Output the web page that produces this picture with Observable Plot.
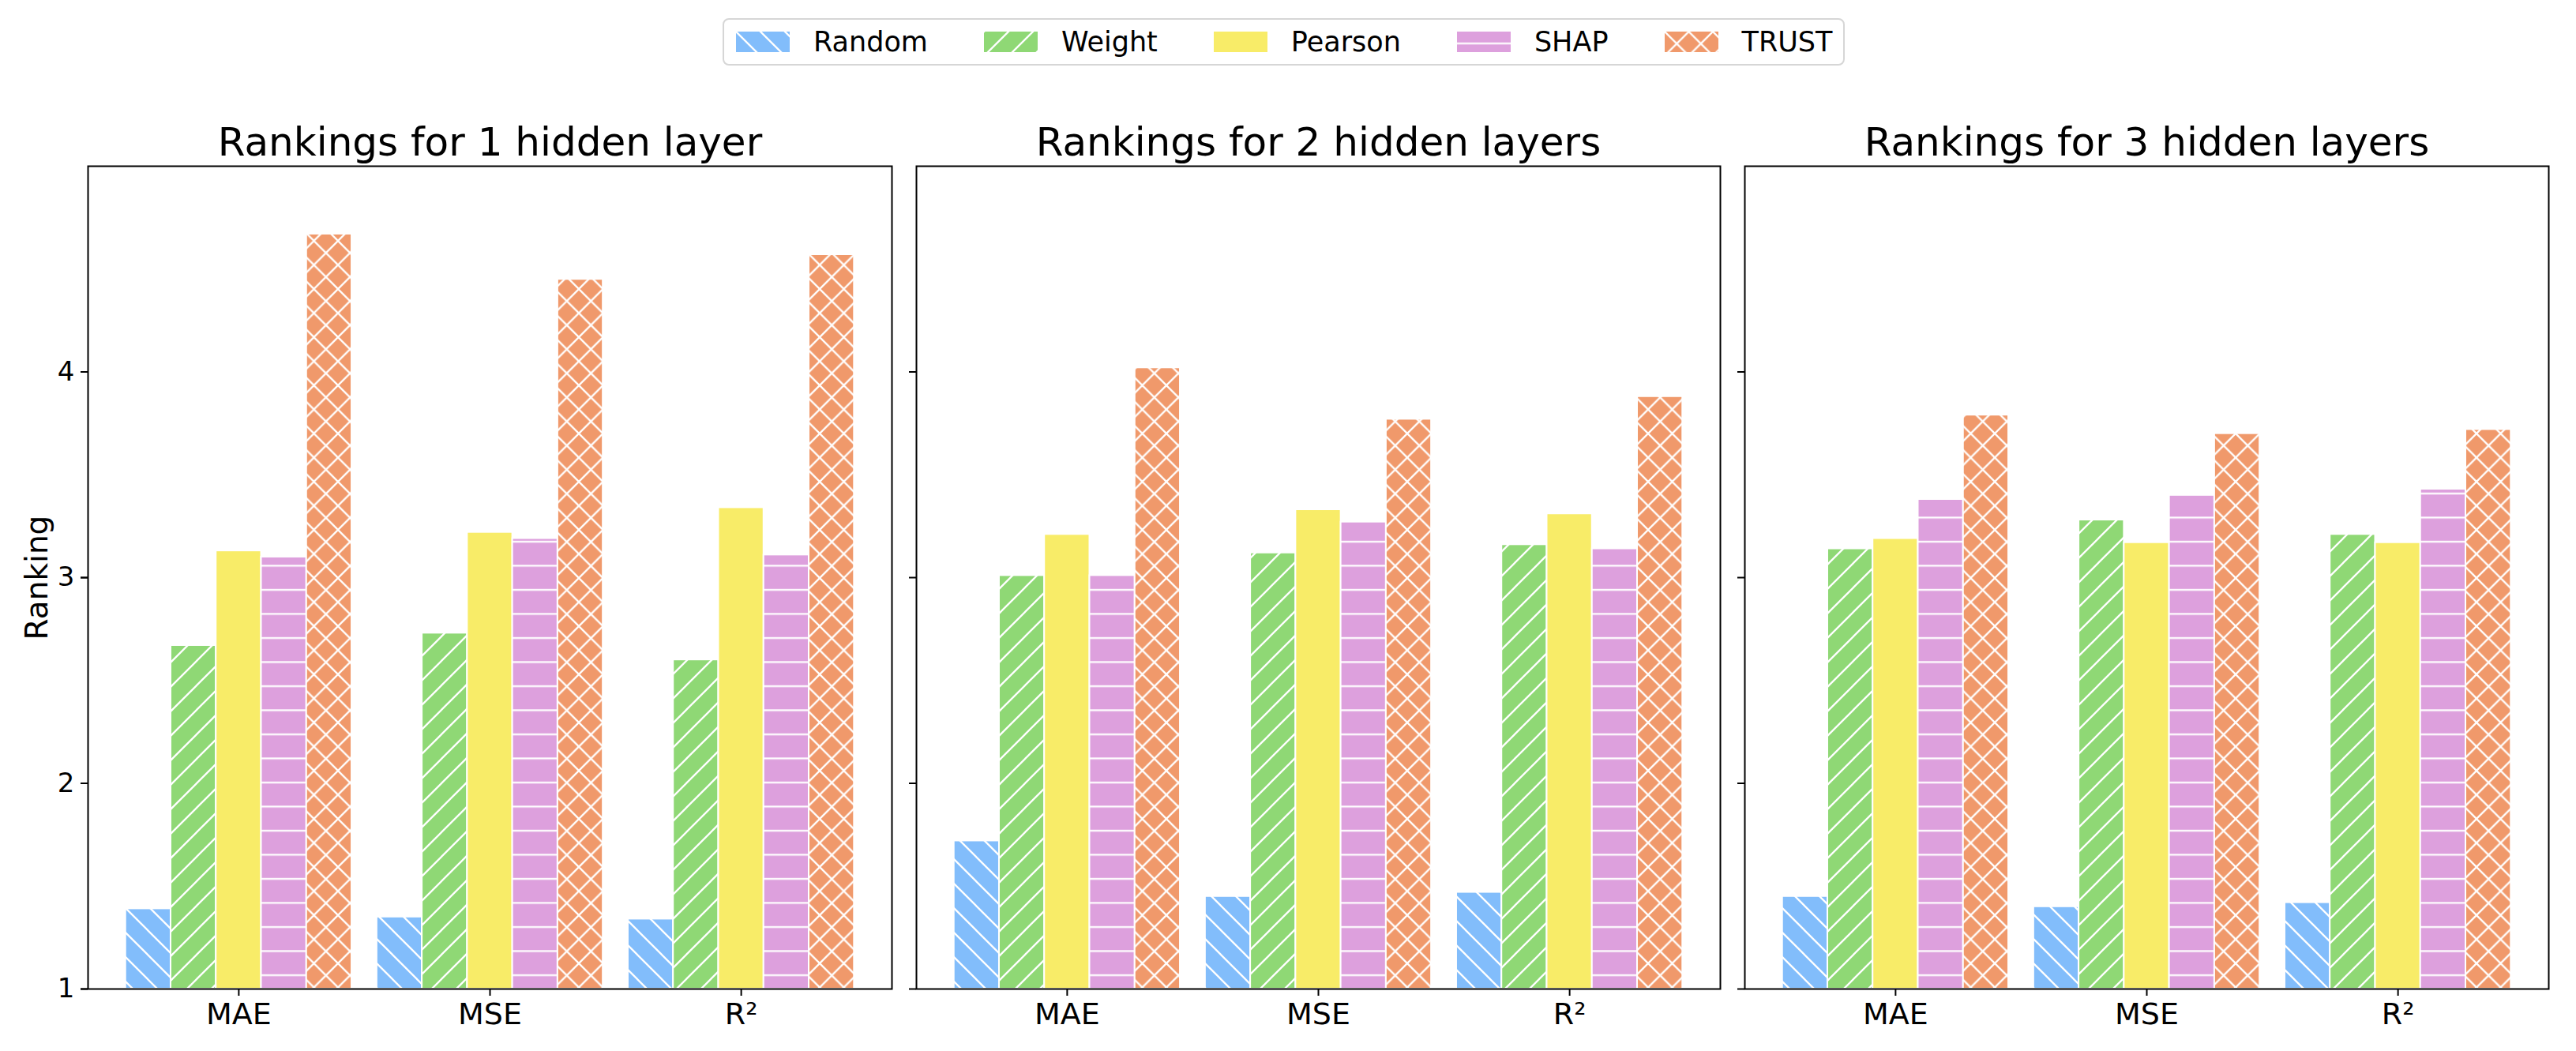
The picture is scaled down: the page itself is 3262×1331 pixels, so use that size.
<!DOCTYPE html>
<html><head><meta charset="utf-8">
<script src="https://cdn.jsdelivr.net/npm/d3@7"></script>
<script src="https://cdn.jsdelivr.net/npm/@observablehq/plot@0.6"></script>
<style>
html,body{margin:0;padding:0;background:#fff;}
body{width:3262px;height:1331px;position:relative;overflow:hidden;font-family:"DejaVu Sans",sans-serif;color:#000;}
#legend{position:absolute;left:915px;top:23px;width:1421px;height:60px;box-sizing:border-box;border:2px solid #d6d6d6;border-radius:8px;display:flex;align-items:center;padding-left:15px;font-size:35px;background:#fff;}
.item{display:flex;align-items:center;margin-right:71px;white-space:nowrap;}
.item:last-child{margin-right:0}
.item svg{width:68px;height:26px;margin-right:30px;display:block}
#chart{position:absolute;left:0;top:0;}
</style></head>
<body>
<svg width="0" height="0" style="position:absolute">
<defs id="defs"></defs>
</svg>
<div id="chart"></div>
<div id="legend"></div>
<script>
// ---- data ----
const layers = ["1 hidden layer", "2 hidden layers", "3 hidden layers"];
const metrics = ["MAE", "MSE", "R²"];
const methods = ["Random", "Weight", "Pearson", "SHAP", "TRUST"];
const yTicks = [1, 2, 3, 4];
// values[layer][method][metric]
const layer1 = [
  [1.39, 1.35, 1.34],
  [2.67, 2.73, 2.60],
  [3.13, 3.22, 3.34],
  [3.10, 3.19, 3.11],
  [4.67, 4.45, 4.57]
];
const layer2 = [
  [1.72, 1.45, 1.47],
  [3.01, 3.12, 3.16],
  [3.21, 3.33, 3.31],
  [3.01, 3.27, 3.14],
  [4.02, 3.77, 3.88]
];
const layer3 = [
  [1.45, 1.40, 1.42],
  [3.14, 3.28, 3.21],
  [3.19, 3.17, 3.17],
  [3.38, 3.40, 3.43],
  [3.79, 3.70, 3.72]
];
const values = [layer1, layer2, layer3];
const colors = ["#82bdfb", "#8fd875", "#f8ec68", "#dda0dd", "#f0996b"];

// ---- hatch patterns ----
const defs = document.getElementById("defs");
const hw = 2.3;
defs.innerHTML = `
<pattern id="h0" patternUnits="userSpaceOnUse" width="31" height="31"><rect width="31" height="31" fill="${colors[0]}"/><path d="M-8,-8 L39,39 M-8,23 L8,39 M23,-8 L39,8" stroke="white" stroke-width="${hw}" fill="none"/></pattern>
<pattern id="h1" patternUnits="userSpaceOnUse" width="31" height="31"><rect width="31" height="31" fill="${colors[1]}"/><path d="M-8,39 L39,-8 M-8,8 L8,-8 M23,39 L39,23" stroke="white" stroke-width="${hw}" fill="none"/></pattern>
<pattern id="h2" patternUnits="userSpaceOnUse" width="31" height="31"><rect width="31" height="31" fill="${colors[2]}"/></pattern>
<pattern id="h3" patternUnits="userSpaceOnUse" width="20" height="30.5"><rect width="20" height="30.5" fill="${colors[3]}"/><path d="M-2,15 L22,15" stroke="white" stroke-width="${hw}" fill="none"/></pattern>
<pattern id="h4" patternUnits="userSpaceOnUse" width="30.5" height="30.5"><rect width="30.5" height="30.5" fill="${colors[4]}"/><path d="M-8,-8 L38.5,38.5 M-8,22.5 L8,38.5 M22.5,-8 L38.5,8 M-8,38.5 L38.5,-8 M-8,8 L8,-8 M22.5,38.5 L38.5,22.5" stroke="white" stroke-width="${hw}" fill="none"/></pattern>`;
const fills = methods.map((m, i) => `url(#h${i})`);

// ---- rows ----
const rows = [];
layers.forEach((layer, li) => methods.forEach((method, mi) => metrics.forEach((metric, ki) => {
  rows.push({layer, method, metric, value: values[li][mi][ki], mi, ki});
})));
const barW = 0.18;

const chart = Plot.plot({
  width: 3262,
  height: 1331,
  marginTop: 210,
  marginBottom: 79,
  marginLeft: 110,
  marginRight: 34,
  style: {fontFamily: "DejaVu Sans", fontSize: "34px", color: "black", background: "white"},
  fx: {domain: layers, padding: 0.03, axis: null},
  x: {domain: [-0.6, 2.6], axis: null},
  y: {domain: [1, 5], axis: null},
  color: {domain: methods, range: fills},
  marks: [
    Plot.rect(rows, {
      fx: "layer",
      x1: d => d.ki + (d.mi - 2.5) * barW,
      x2: d => d.ki + (d.mi - 1.5) * barW,
      y1: d => 1,
      y2: "value",
      fill: "method",
      stroke: "white",
      strokeWidth: 2
    }),
    Plot.frame({stroke: "black", strokeWidth: 2}),
    Plot.axisX({ticks: [0, 1, 2], tickFormat: i => metrics[i], tickSize: 9, tickPadding: 9, fontSize: 38, label: null, strokeWidth: 2}),
    Plot.axisY({ticks: yTicks, tickFormat: () => "", tickSize: 9, label: null, facetAnchor: null, strokeWidth: 2}),
    Plot.axisY({ticks: yTicks, tickFormat: d => String(d), tickSize: 9, tickPadding: 8, fontSize: 34, label: null, strokeWidth: 2}),
    Plot.text([layers[0]], {fx: d => d, text: () => "Ranking", frameAnchor: "left", textAnchor: "middle", rotate: -90, dx: -64, fontSize: 39}),
    Plot.text(layers, {fx: d => d, text: d => "Rankings for " + d, frameAnchor: "top", lineAnchor: "bottom", textAnchor: "middle", dy: -14, fontSize: 50})
  ]
});
document.getElementById("chart").appendChild(chart);

// ---- legend ----
const legend = document.getElementById("legend");
methods.forEach((m, i) => {
  const item = document.createElement("div");
  item.className = "item";
  item.innerHTML = `<svg viewBox="0 0 68 26"><rect x="0" y="0" width="68" height="26" fill="${fills[i]}"/></svg><span>${m}</span>`;
  legend.appendChild(item);
});
</script>
</body></html>
